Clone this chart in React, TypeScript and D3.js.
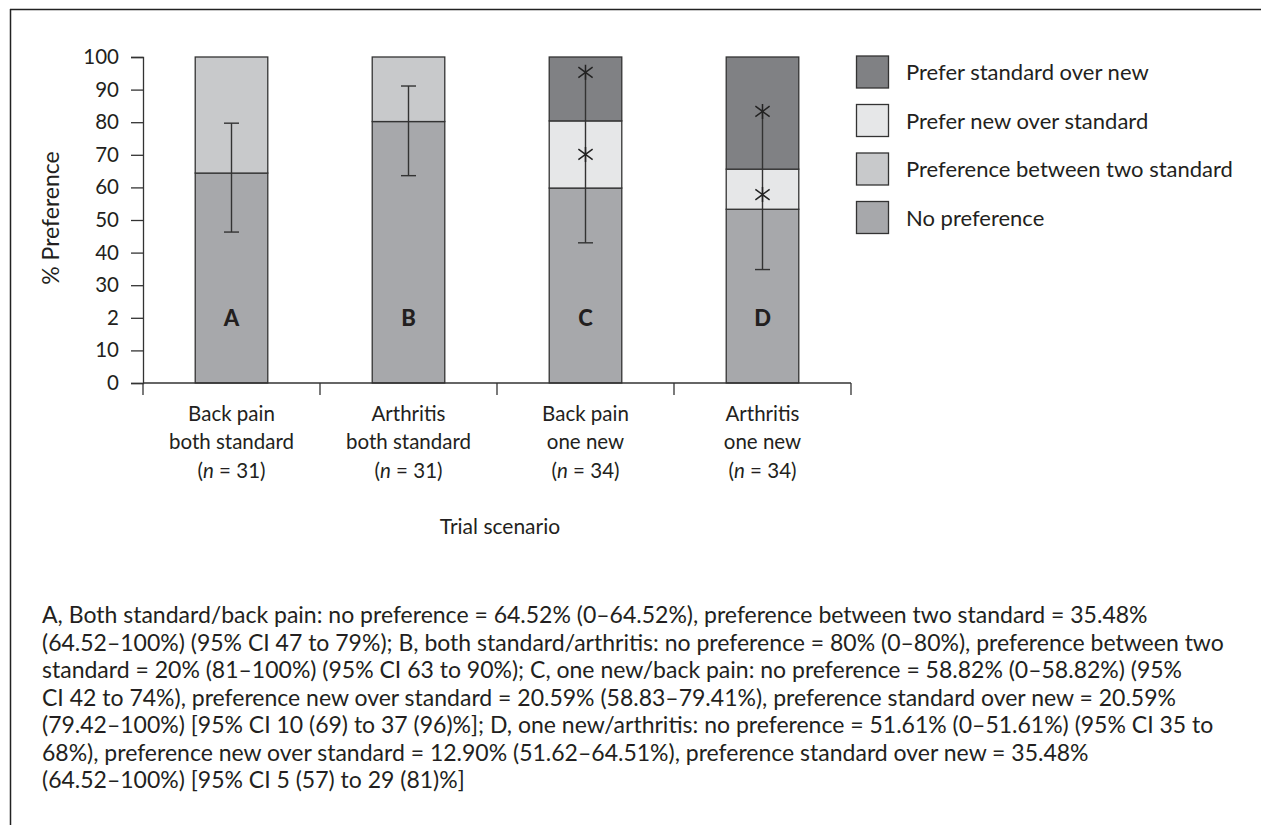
import React, { useEffect, useRef } from "react";
import * as d3 from "d3";

// scenario labels (three lines each)
const categories = ["A", "B", "C", "D"];
const labelLine1 = ["Back pain", "Arthritis", "Back pain", "Arthritis"];
const labelLine2 = ["both standard", "both standard", "one new", "one new"];
const sampleSizes = ["31", "31", "34", "34"];

// stacked segments, %
const noPreference = [64.4, 80.2, 59.8, 53.3];
const betweenTwoStandard = [35.6, 19.8, 0, 0];
const preferNewOverStandard = [0, 0, 20.6, 12.3];
const preferStandardOverNew = [0, 0, 19.6, 34.4];

// 95% CI bars
const ciLow = [46.3, 63.6, 43, 34.8];
const ciHigh = [79.7, 91.1, 95.3, 83.3];
const ciTopCap = [true, true, false, false];
const starValues = [[], [], [95.3, 70.1], [83.3, 57.8]];

const yTicks = [0, 10, 20, 30, 40, 50, 60, 70, 80, 90, 100];
const yTickLabels = ["0", "10", "2", "30", "40", "50", "60", "70", "80", "90", "100"];

const seriesKeys = ["noPref", "between", "newOver", "stdOver"];
const seriesNames = ["No preference", "Preference between two standard", "Prefer new over standard", "Prefer standard over new"];
const seriesColors = ["#a7a8ab", "#c8c9cb", "#e6e7e8", "#808184"];

const captionLines = [
  "A, Both standard/back pain: no preference = 64.52% (0–64.52%), preference between two standard = 35.48%",
  "(64.52–100%) (95% CI 47 to 79%); B, both standard/arthritis: no preference = 80% (0–80%), preference between two",
  "standard = 20% (81–100%) (95% CI 63 to 90%); C, one new/back pain: no preference = 58.82% (0–58.82%) (95%",
  "CI 42 to 74%), preference new over standard = 20.59% (58.83–79.41%), preference standard over new = 20.59%",
  "(79.42–100%) [95% CI 10 (69) to 37 (96)%]; D, one new/arthritis: no preference = 51.61% (0–51.61%) (95% CI 35 to",
  "68%), preference new over standard = 12.90% (51.62–64.51%), preference standard over new = 35.48%",
  "(64.52–100%) [95% CI 5 (57) to 29 (81)%]",
];

const FONT = "Lato, 'Open Sans', sans-serif";

// asterisk like the printed one: vertical stroke plus an X
const starSymbol = {
  draw(ctx, size) {
    const r = Math.sqrt(size) / 2;
    const dx = r * 0.95;
    const dy = r * 0.7;
    ctx.moveTo(0, -r);
    ctx.lineTo(0, r);
    ctx.moveTo(-dx, -dy);
    ctx.lineTo(dx, dy);
    ctx.moveTo(dx, -dy);
    ctx.lineTo(-dx, dy);
  },
};

export default function App() {
  const ref = useRef(null);

  useEffect(() => {
    const svg = d3.select(ref.current);
    svg.selectAll("*").remove();

    const x = d3.scaleBand().domain(categories).range([143, 851]).padding(0);
    const y = d3.scaleLinear().domain([0, 100]).range([383, 57]);
    const barW = x.bandwidth() * 0.41;
    const cx = (c) => x(c) + x.bandwidth() / 2;

    // frame (top and left only)
    svg.append("line").attr("x1", 10).attr("x2", 1261).attr("y1", 9.5).attr("y2", 9.5).attr("stroke", "#222").attr("stroke-width", 1.5);
    svg.append("line").attr("x1", 10.5).attr("x2", 10.5).attr("y1", 9).attr("y2", 825).attr("stroke", "#222").attr("stroke-width", 1.5);

    const table = categories.map((c, i) => ({
      cat: c,
      noPref: noPreference[i],
      between: betweenTwoStandard[i],
      newOver: preferNewOverStandard[i],
      stdOver: preferStandardOverNew[i],
    }));
    const stacked = d3.stack().keys(seriesKeys)(table);

    const g = svg.append("g");
    stacked.forEach((layer, li) => {
      g.selectAll(null)
        .data(layer.filter((d) => d[1] - d[0] > 0))
        .enter()
        .append("rect")
        .attr("x", (d) => cx(d.data.cat) - barW / 2)
        .attr("y", (d) => y(d[1]))
        .attr("width", barW)
        .attr("height", (d) => y(d[0]) - y(d[1]))
        .attr("fill", seriesColors[li])
        .attr("stroke", "#333")
        .attr("stroke-width", 1.3);
    });

    // bar letters
    g.selectAll(null)
      .data(categories)
      .enter()
      .append("text")
      .attr("x", (c) => cx(c))
      .attr("y", y(20) + 8)
      .attr("text-anchor", "middle")
      .attr("font-family", FONT)
      .attr("font-weight", 900)
      .attr("font-size", 22)
      .attr("fill", "#231f20")
      .text((c) => c);

    // error bars
    categories.forEach((c, i) => {
      const xc = cx(c);
      g.append("line").attr("x1", xc).attr("x2", xc).attr("y1", y(ciHigh[i])).attr("y2", y(ciLow[i])).attr("stroke", "#333").attr("stroke-width", 1.4);
      g.append("line").attr("x1", xc - 7.5).attr("x2", xc + 7.5).attr("y1", y(ciLow[i])).attr("y2", y(ciLow[i])).attr("stroke", "#333").attr("stroke-width", 1.4);
      if (ciTopCap[i]) {
        g.append("line").attr("x1", xc - 7.5).attr("x2", xc + 7.5).attr("y1", y(ciHigh[i])).attr("y2", y(ciHigh[i])).attr("stroke", "#333").attr("stroke-width", 1.4);
      }
      starValues[i].forEach((v) => {
        g.append("path")
          .attr("d", d3.symbol(starSymbol, 225)())
          .attr("transform", `translate(${xc},${y(v)})`)
          .attr("fill", "none")
          .attr("stroke", "#222")
          .attr("stroke-width", 1.5);
      });
    });

    // y axis
    const yAxis = svg
      .append("g")
      .attr("transform", "translate(143,0)")
      .call(
        d3.axisLeft(y).tickValues(yTicks).tickSize(12).tickPadding(12)
          .tickFormat((d, i) => yTickLabels[i])
      );
    yAxis.selectAll("line, path").attr("stroke", "#333").attr("stroke-width", 1.3);
    yAxis.selectAll("text").attr("font-family", FONT).attr("font-size", 20.5).attr("fill", "#231f20");

    // x axis
    const bounds = [...categories.map((c) => x(c)), x.range()[1]];
    const xa = svg.append("g");
    xa.append("line").attr("x1", 143).attr("x2", 851).attr("y1", y(0)).attr("y2", y(0)).attr("stroke", "#333").attr("stroke-width", 1.3);
    xa.selectAll(null).data(bounds).enter().append("line")
      .attr("x1", (d) => d).attr("x2", (d) => d)
      .attr("y1", y(0)).attr("y2", y(0) + 12)
      .attr("stroke", "#333").attr("stroke-width", 1.3);

    categories.forEach((c, i) => {
      const t = xa.append("text").attr("x", cx(c)).attr("text-anchor", "middle").attr("font-family", FONT).attr("font-size", 20.5).attr("fill", "#231f20");
      t.append("tspan").attr("x", cx(c)).attr("y", 421).text(labelLine1[i]);
      t.append("tspan").attr("x", cx(c)).attr("y", 449).text(labelLine2[i]);
      const l3 = t.append("tspan").attr("x", cx(c)).attr("y", 478);
      l3.append("tspan").text("(");
      l3.append("tspan").attr("font-style", "italic").text("n");
      l3.append("tspan").text(` = ${sampleSizes[i]})`);
    });

    svg.append("text").attr("x", 500).attr("y", 534).attr("text-anchor", "middle")
      .attr("font-family", FONT).attr("font-size", 21).attr("fill", "#231f20").text("Trial scenario");

    svg.append("text").attr("transform", `translate(59,${y(50) - 2}) rotate(-90)`).attr("text-anchor", "middle")
      .attr("font-family", FONT).attr("font-size", 23).attr("fill", "#231f20").text("% Preference");

    // legend (top entry = last series)
    const legendOrder = [3, 2, 1, 0];
    const lg = svg.append("g");
    legendOrder.forEach((si, k) => {
      const ly = 56 + k * 48.5;
      lg.append("rect").attr("x", 856.5).attr("y", ly).attr("width", 32).attr("height", 32)
        .attr("fill", seriesColors[si]).attr("stroke", "#333").attr("stroke-width", 1.3);
      lg.append("text").attr("x", 906).attr("y", ly + 24).attr("font-family", FONT).attr("font-size", 22)
        .attr("fill", "#231f20").text(seriesNames[si]);
    });

    // caption
    const cap = svg.append("g");
    captionLines.forEach((line, i) => {
      cap.append("text").attr("x", 42).attr("y", 623 + i * 27.5)
        .attr("font-family", FONT).attr("font-size", 23).attr("fill", "#231f20").text(line);
    });
  }, []);

  return (
    <svg ref={ref} width={1261} height={825} style={{ position: "absolute", left: 0, top: 0, background: "#fff" }} />
  );
}
